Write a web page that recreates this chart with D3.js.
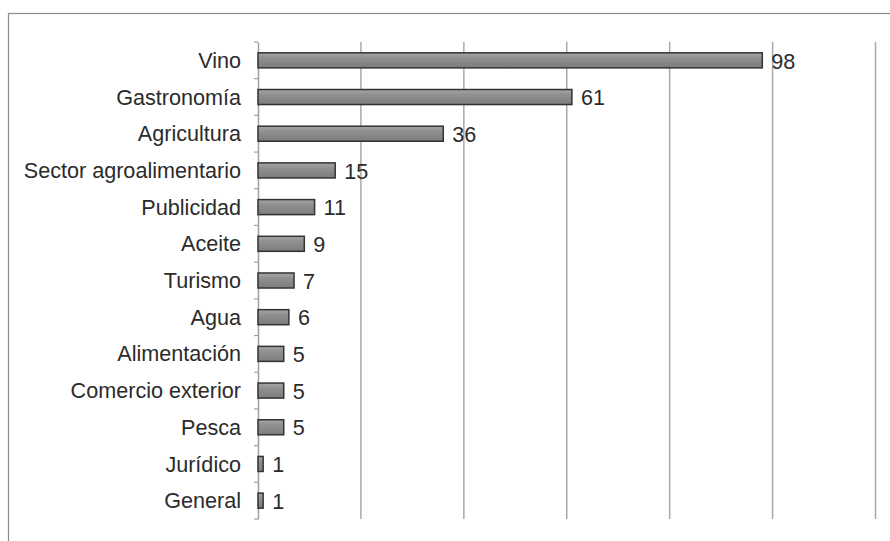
<!DOCTYPE html>
<html>
<head>
<meta charset="utf-8">
<script src="https://cdn.jsdelivr.net/npm/d3@7"></script>
<style>
  html, body { margin: 0; padding: 0; background: #fff; }
  svg { display: block; }
</style>
</head>
<body>
<svg id="chart" width="890" height="541"></svg>
<script>
const categories = ["Vino", "Gastronomía", "Agricultura", "Sector agroalimentario", "Publicidad", "Aceite", "Turismo", "Agua", "Alimentación", "Comercio exterior", "Pesca", "Jurídico", "General"];
const values = [98, 61, 36, 15, 11, 9, 7, 6, 5, 5, 5, 1, 1];
const xTicks = [0, 20, 40, 60, 80, 100, 120];

(function () {
const svg = d3.select("#chart");
const W = 890, H = 541;
const pLeft = 258, pRight = 875.5, pTop = 42, pBottom = 519;
const FONT = "'Liberation Sans', Arial, sans-serif";
const FS = 21.6;

// outer border (chart area frame, extends past the picture)
svg.append("rect")
  .attr("x", 8.5).attr("y", 13.5)
  .attr("width", W + 20).attr("height", H + 20)
  .attr("fill", "#fff").attr("stroke", "#8a8a8a").attr("stroke-width", 1.2);

const x = d3.scaleLinear().domain([0, 120]).range([pLeft, pRight]);
const y = d3.scaleBand().domain(categories).range([pTop, pBottom]).padding(0);

const defs = svg.append("defs");
const grad = defs.append("linearGradient").attr("id", "barGrad")
  .attr("x1", 0).attr("y1", 0).attr("x2", 0).attr("y2", 1);
grad.append("stop").attr("offset", "0%").attr("stop-color", "#a6a6a6");
grad.append("stop").attr("offset", "35%").attr("stop-color", "#909090");
grad.append("stop").attr("offset", "100%").attr("stop-color", "#7c7c7c");

// gridlines
svg.append("g")
  .selectAll("line")
  .data(xTicks.filter(d => d > 0))
  .join("line")
  .attr("x1", d => x(d)).attr("x2", d => x(d))
  .attr("y1", pTop).attr("y2", pBottom)
  .attr("stroke", "#a9a9a9").attr("stroke-width", 1.5);

// y axis
const yAxis = d3.axisLeft(y).tickSize(0).tickFormat("");
const gy = svg.append("g").attr("transform", `translate(${pLeft},0)`).call(yAxis);
gy.select(".domain").attr("stroke", "#a0a0a0").attr("stroke-width", 1.5);
// boundary ticks
const bounds = d3.range(categories.length + 1).map(i => pTop + i * y.step());
svg.append("g").selectAll("line").data(bounds).join("line")
  .attr("x1", pLeft - 4).attr("x2", pLeft)
  .attr("y1", d => d).attr("y2", d => d)
  .attr("stroke", "#a0a0a0").attr("stroke-width", 1.2);

// category labels
svg.append("g").selectAll("text").data(categories).join("text")
  .attr("x", pLeft - 17)
  .attr("y", d => y(d) + y.bandwidth() / 2)
  .attr("dy", "0.35em")
  .attr("text-anchor", "end")
  .attr("font-family", FONT)
  .attr("font-size", FS)
  .attr("fill", "#2b2b2b")
  .text(d => d);

// bars
const barH = y.bandwidth() * 0.41;
svg.append("g").selectAll("rect").data(values).join("rect")
  .attr("x", x(0))
  .attr("y", (d, i) => y(categories[i]) + (y.bandwidth() - barH) / 2)
  .attr("width", d => x(d) - x(0))
  .attr("height", barH)
  .attr("fill", "url(#barGrad)")
  .attr("stroke", "#333")
  .attr("stroke-width", 1.5);

// value labels
svg.append("g").selectAll("text").data(values).join("text")
  .attr("x", d => x(d) + 9)
  .attr("y", (d, i) => y(categories[i]) + y.bandwidth() / 2)
  .attr("dy", "0.38em")
  .attr("font-family", FONT)
  .attr("font-size", FS)
  .attr("fill", "#2b2b2b")
  .text(d => d);
})();
</script>
</body>
</html>
